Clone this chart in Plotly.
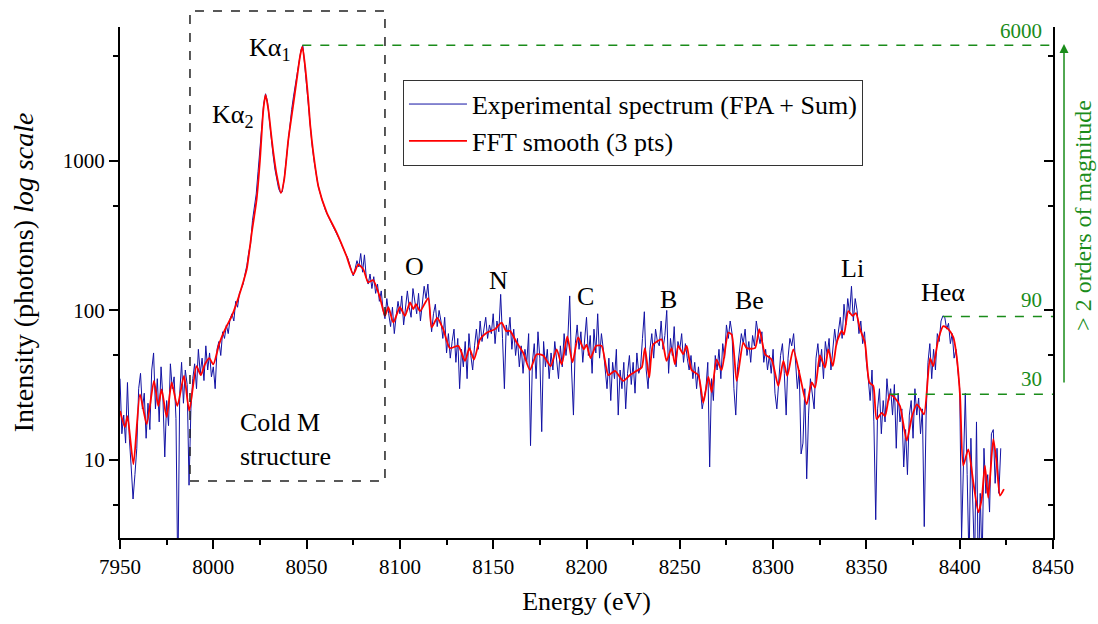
import numpy as np
import plotly.graph_objects as go

FONT = "Liberation Serif"
GREEN = "#1a8c1a"

# ---------------- data ----------------
energy_start, energy_stop = 7950, 8423          # 1 eV grid of the measured spectrum
experimental = [
    35, 15, 20, 13, 33, 14, 9, 5.5, 8, 12,
    30, 38, 22, 28, 14, 24, 16, 40, 52, 22,
    35, 18, 42, 26, 10.5, 25, 17, 44, 30, 36,
    19, 1.5, 28, 45, 24, 40, 32, 6.8, 22, 35,
    44, 30, 55, 38, 48, 34, 58, 40, 52, 36,
    42, 30, 55, 62, 50, 72, 65, 80, 70, 88,
    95, 85, 115, 105, 130, 140, 150, 175, 200, 245,
    280, 400, 480, 600, 850, 1200, 1750, 2400, 2800, 2500,
    1900, 1400, 1100, 880, 740, 650, 610, 620, 760, 1000,
    1350, 1750, 2200, 2700, 3200, 3700, 4500, 5500, 5900, 4300,
    3000, 2300, 1700, 1250, 1000, 820, 700, 620, 560, 520,
    470, 440, 415, 390, 365, 345, 330, 312, 290, 270,
    250, 238, 225, 205, 185, 170, 190, 215, 195, 240,
    180, 235, 165, 150, 175, 140, 168, 130, 150, 115,
    135, 100, 88, 120, 95, 78, 105, 70, 92, 115,
    95, 125, 80, 100, 135, 105, 90, 140, 115, 95,
    130, 85, 110, 145, 120, 150, 100, 72, 95, 110,
    78, 100, 85, 65, 90, 52, 70, 48, 62, 75,
    45, 65, 30, 55, 42, 62, 35, 70, 50, 40,
    58, 75, 55, 85, 62, 78, 90, 65, 80, 70,
    95, 60, 85, 72, 128, 65, 30, 80, 68, 90,
    55, 75, 50, 65, 42, 58, 38, 55, 45, 70,
    12.5, 45, 60, 35, 72, 48, 15.5, 62, 42, 55,
    35, 52, 40, 62, 48, 35, 58, 42, 70, 50,
    65, 125, 40, 20, 60, 80, 55, 72, 45, 62,
    90, 50, 68, 38, 75, 52, 95, 48, 70, 55,
    40, 30, 48, 25, 45, 35, 55, 20, 40, 30,
    45, 22, 38, 50, 32, 45, 28, 52, 38, 42,
    65, 98, 40, 30, 55, 70, 48, 75, 62, 58,
    85, 55, 68, 100, 38, 65, 50, 78, 42, 62,
    55, 70, 45, 60, 48, 40, 50, 35, 45, 30,
    42, 28, 22, 26, 30, 45, 9, 35, 25, 50,
    40, 55, 35, 60, 48, 80, 65, 85, 70, 30,
    20, 42, 55, 70, 60, 75, 50, 62, 45, 68,
    58, 85, 70, 60, 72, 45, 55, 40, 50, 38,
    55, 28, 22, 35, 50, 60, 38, 20, 48, 65,
    58, 70, 45, 30, 40, 11, 13, 30, 7.5, 20,
    35, 28, 22, 48, 60, 42, 55, 35, 62, 50,
    65, 40, 52, 75, 58, 70, 90, 65, 110, 80,
    120, 95, 145, 85, 120, 100, 70, 85, 60, 72,
    45, 35, 25, 40, 18, 4, 22, 30, 15, 25,
    18, 35, 25, 30, 20, 32, 12, 28, 18, 22,
    9, 16, 8, 20, 25, 14, 30, 20, 26, 15,
    22, 3.6, 20, 45, 60, 35, 55, 40, 70, 62,
    85, 92, 90, 75, 82, 60, 70, 48, 55, 40,
    30, 3, 12, 28, 8, 2, 14, 5, 2, 18,
    1.5, 6, 2, 12, 6, 8, 4.5, 15, 16, 7,
    12, 6, 12,
]

smooth_energy = [
    7950, 7952.7, 7954, 7957.2, 7960.7, 7964.3, 7968.2, 7970.5, 7972.3, 7975,
    7977.7, 7980.7, 7984.3, 7987.1, 7991, 7993.3, 7995.5, 7997.8, 8000, 8003.2,
    8006.3, 8009.9, 8012.5, 8015, 8017.9, 8020.6, 8023.2, 8025, 8026.8, 8028,
    8029.5, 8031, 8032.2, 8034, 8036.3, 8038, 8040.2, 8042.5, 8044.7, 8046.5,
    8047.7, 8049, 8050.9, 8052, 8053.6, 8056.3, 8060.8, 8066.1, 8071.4, 8075,
    8077.7, 8080.4, 8083, 8085.7, 8089.3, 8092, 8093.8, 8096.5, 8100, 8102.7,
    8105.4, 8107.2, 8108.6, 8110.8, 8115.2, 8117, 8120, 8123.2, 8126.8, 8131.3,
    8134.9, 8137.2, 8139.7, 8142.9, 8146.5, 8151, 8154.5, 8156.9, 8159, 8162.6,
    8166.1, 8169.7, 8173.3, 8176.8, 8180.8, 8184, 8186.7, 8189.7, 8192.5, 8195.5,
    8198.6, 8200, 8202.2, 8205.1, 8208.1, 8211.7, 8215.3, 8219.7, 8223.3, 8226.9,
    8229.6, 8231.3, 8233.6, 8235.7, 8240.2, 8242.9, 8245.6, 8247.4, 8249.2, 8251.8,
    8253.7, 8256.3, 8259.9, 8262.6, 8265.3, 8267.1, 8269.7, 8272.4, 8276, 8277.8,
    8280.5, 8284, 8285.8, 8290.3, 8292.6, 8295.7, 8299.2, 8302.8, 8305.5, 8307.6,
    8310.8, 8314.4, 8318, 8320.7, 8322.5, 8325.1, 8327.8, 8329.6, 8332, 8334.1,
    8336.8, 8338, 8340.3, 8342.6, 8344.4, 8346.6, 8349.2, 8351.6, 8353.7, 8355.5,
    8358.2, 8360, 8362.6, 8365.3, 8368, 8371.6, 8374.3, 8377, 8378.7, 8380.9,
    8384.1, 8385.8, 8388.5, 8391.2, 8393.9, 8396.6, 8398.3, 8400.2, 8401.9, 8404.6,
    8407.3, 8410, 8411.8, 8413.5, 8415.3, 8418, 8419.8, 8421.6, 8423.7,
]
smooth_counts = [
    21.3, 16.6, 19.7, 9.4, 27.5, 17.4, 33.8, 23, 29.7, 19.4,
    33, 23, 36.5, 21.3, 42.5, 37, 43.6, 48, 43.6, 60,
    74.7, 91.6, 112, 140, 188, 330, 550, 1000, 2180, 2754,
    2200, 1500, 1130, 800, 609, 750, 1380, 2200, 3460, 5000,
    5780, 4500, 2550, 1700, 1126, 673, 450, 331, 230, 174,
    203, 188, 154, 159, 122, 92, 105, 83, 105, 92,
    113, 102, 110, 99, 121, 77, 89, 75, 56, 58,
    46, 56, 47, 64, 71, 75, 83, 73, 73, 61,
    52, 40, 51, 50, 42.5, 55, 43.6, 67, 45, 66,
    55, 59, 48, 58, 58, 37, 39.5, 33.8, 37, 39.5,
    41.5, 56, 35.6, 59, 64, 46, 56, 43.6, 58, 51,
    58, 40, 37, 24.2, 36, 28.5, 47, 40, 71, 69,
    33.8, 61, 56, 56, 75, 51, 47, 31.3, 46, 36.5,
    55, 36.5, 23.6, 33, 30.5, 50, 41.5, 55, 42.5, 61,
    73, 69, 99, 92, 96, 75, 61, 33, 31.3, 18.8,
    20.7, 19.7, 27.5, 26, 23, 13.5, 19.3, 23.6, 22.3, 20.2,
    48, 42.5, 64, 78.6, 75, 66, 50, 26.8, 9.2, 11.8,
    7.1, 4.5, 5.5, 9.2, 5.6, 13.8, 9.6, 5.8, 6.4,
]

series_names = ["Experimental spectrum (FPA + Sum)", "FFT smooth (3 pts)"]

x_ticks = [7950, 8000, 8050, 8100, 8150, 8200, 8250, 8300, 8350, 8400, 8450]
y_ticks = [10, 100, 1000]
y_minor = [5, 50, 500, 5000]

# emission line labels (text, energy, intensity)
line_labels = ["O", "N", "C", "B", "Be", "Li", "Heα"]
line_label_e = [8107.6, 8153.1, 8199.7, 8244.2, 8287.6, 8342.8, 8391]
line_label_i = [196, 158, 124, 118, 117, 191, 132]

k_labels = ["Kα<sub>1</sub>", "Kα<sub>2</sub>"]
k_label_e = [8018.1, 7998.2]
k_label_i = [5600, 1995]

# reference levels (start energy, level, text)
level_start = [8047.7, 8391, 8362.6]
level_value = [5900, 91, 27.5]
level_text = ["6000", "90", "30"]
level_text_i = [7300, 117, 35]

cold_box_e = [7987.5, 8092]
cold_box_paper = [0.1115, 1.0313]

# ---------------- figure ----------------
energy = np.arange(energy_start, energy_stop)

fig = go.Figure()
fig.add_trace(go.Scatter(
    x=energy, y=experimental, mode="lines", name=series_names[0],
    line=dict(color="#1212a4", width=1)))
fig.add_trace(go.Scatter(
    x=smooth_energy, y=smooth_counts, mode="lines", name=series_names[1],
    line=dict(color="#ff0000", width=1.8, shape="spline", smoothing=0.6)))
# carrier for the right-hand axis
fig.add_trace(go.Scatter(x=[energy_start], y=[100], yaxis="y2", mode="markers",
                         marker=dict(opacity=0), showlegend=False, hoverinfo="skip"))

yrange = [0.48, 3.893]
tick_font = dict(family=FONT, size=21, color="black")
axis_common = dict(showline=True, linecolor="black", linewidth=2, showgrid=False,
                   zeroline=False, tickcolor="black", tickwidth=1.5)

fig.update_layout(
    width=1098, height=624,
    margin=dict(l=120, r=45, t=27, b=86, pad=0),
    paper_bgcolor="white", plot_bgcolor="white",
    font=dict(family=FONT, color="black", size=21),
    xaxis=dict(range=[7950, 8450], tickvals=x_ticks, ticks="outside", ticklen=9,
               tickfont=tick_font,
               minor=dict(dtick=25, tick0=7950, ticks="outside", ticklen=5,
                          tickwidth=1.5, tickcolor="black", showgrid=False),
               title=dict(text="Energy (eV)", font=dict(family=FONT, size=26, color="black"),
                          standoff=14),
               **axis_common),
    yaxis=dict(type="log", range=yrange, tickvals=y_ticks,
               ticktext=[str(v) for v in y_ticks], ticks="outside", ticklen=9,
               tickfont=tick_font,
               minor=dict(tickvals=y_minor, ticks="outside", ticklen=5,
                          tickwidth=1.5, tickcolor="black", showgrid=False),
               **axis_common),
    yaxis2=dict(type="log", range=yrange, overlaying="y", side="right",
                tickvals=y_ticks, ticks="inside", ticklen=9, showticklabels=False,
                minor=dict(tickvals=y_minor, ticks="inside", ticklen=5,
                           tickwidth=1.5, tickcolor="black", showgrid=False),
                **axis_common),
    legend=dict(x=0.3033, y=0.897, xanchor="left", yanchor="top",
                bordercolor="#333", borderwidth=1, bgcolor="white", itemwidth=58,
                font=dict(size=26, family=FONT, color="black"), tracegroupgap=0),
    showlegend=True,
)

# y-axis title
fig.add_annotation(xref="paper", yref="paper", x=-0.104, y=0.52, xanchor="center",
                   yanchor="middle", textangle=-90, showarrow=False,
                   text="Intensity (photons) <i>log scale</i>",
                   font=dict(family=FONT, size=28, color="black"))

# dashed box around the Kα region
fig.add_shape(type="rect", xref="x", yref="paper",
              x0=cold_box_e[0], x1=cold_box_e[1], y0=cold_box_paper[0], y1=cold_box_paper[1],
              line=dict(color="#222222", width=1.5, dash="dash"))

# green reference levels
for xs, lv, txt, ti in zip(level_start, level_value, level_text, level_text_i):
    fig.add_shape(type="line", xref="x", yref="y", x0=xs, x1=8450, y0=lv, y1=lv,
                  line=dict(color=GREEN, width=1.5, dash="dash"))
    fig.add_annotation(x=8445, y=np.log10(ti), xref="x", yref="y", text=txt,
                       showarrow=False, xanchor="right", yanchor="middle",
                       font=dict(size=21, color=GREEN, family=FONT))

# arrow + text on the right
fig.add_annotation(xref="paper", yref="paper", x=1.0118, y=0.9667, ax=0, ay=340,
                   text="", showarrow=True, arrowhead=2, arrowsize=1.2,
                   arrowwidth=1.5, arrowcolor=GREEN)
fig.add_annotation(xref="paper", yref="paper", x=1.032, y=0.632, xanchor="center",
                   yanchor="middle", text="> 2 orders of magnitude",
                   textangle=-90, showarrow=False, font=dict(size=24, color=GREEN, family=FONT))

# emission line labels
for t, e, i in zip(line_labels, line_label_e, line_label_i):
    fig.add_annotation(x=e, y=np.log10(i), text=t, showarrow=False,
                       font=dict(size=26, family=FONT, color="black"))
for t, e, i in zip(k_labels, k_label_e, k_label_i):
    fig.add_annotation(x=e, y=np.log10(i), text=t, showarrow=False, xanchor="left",
                       font=dict(size=26, family=FONT, color="black"))

fig.add_annotation(x=8013.2, y=np.log10(13.8), text="Cold M<br>structure", showarrow=False,
                   xanchor="left", align="left", font=dict(size=26, family=FONT, color="black"))

fig.write_html("out.html", config={"displayModeBar": False},
               post_script="document.body.style.margin='0';")
